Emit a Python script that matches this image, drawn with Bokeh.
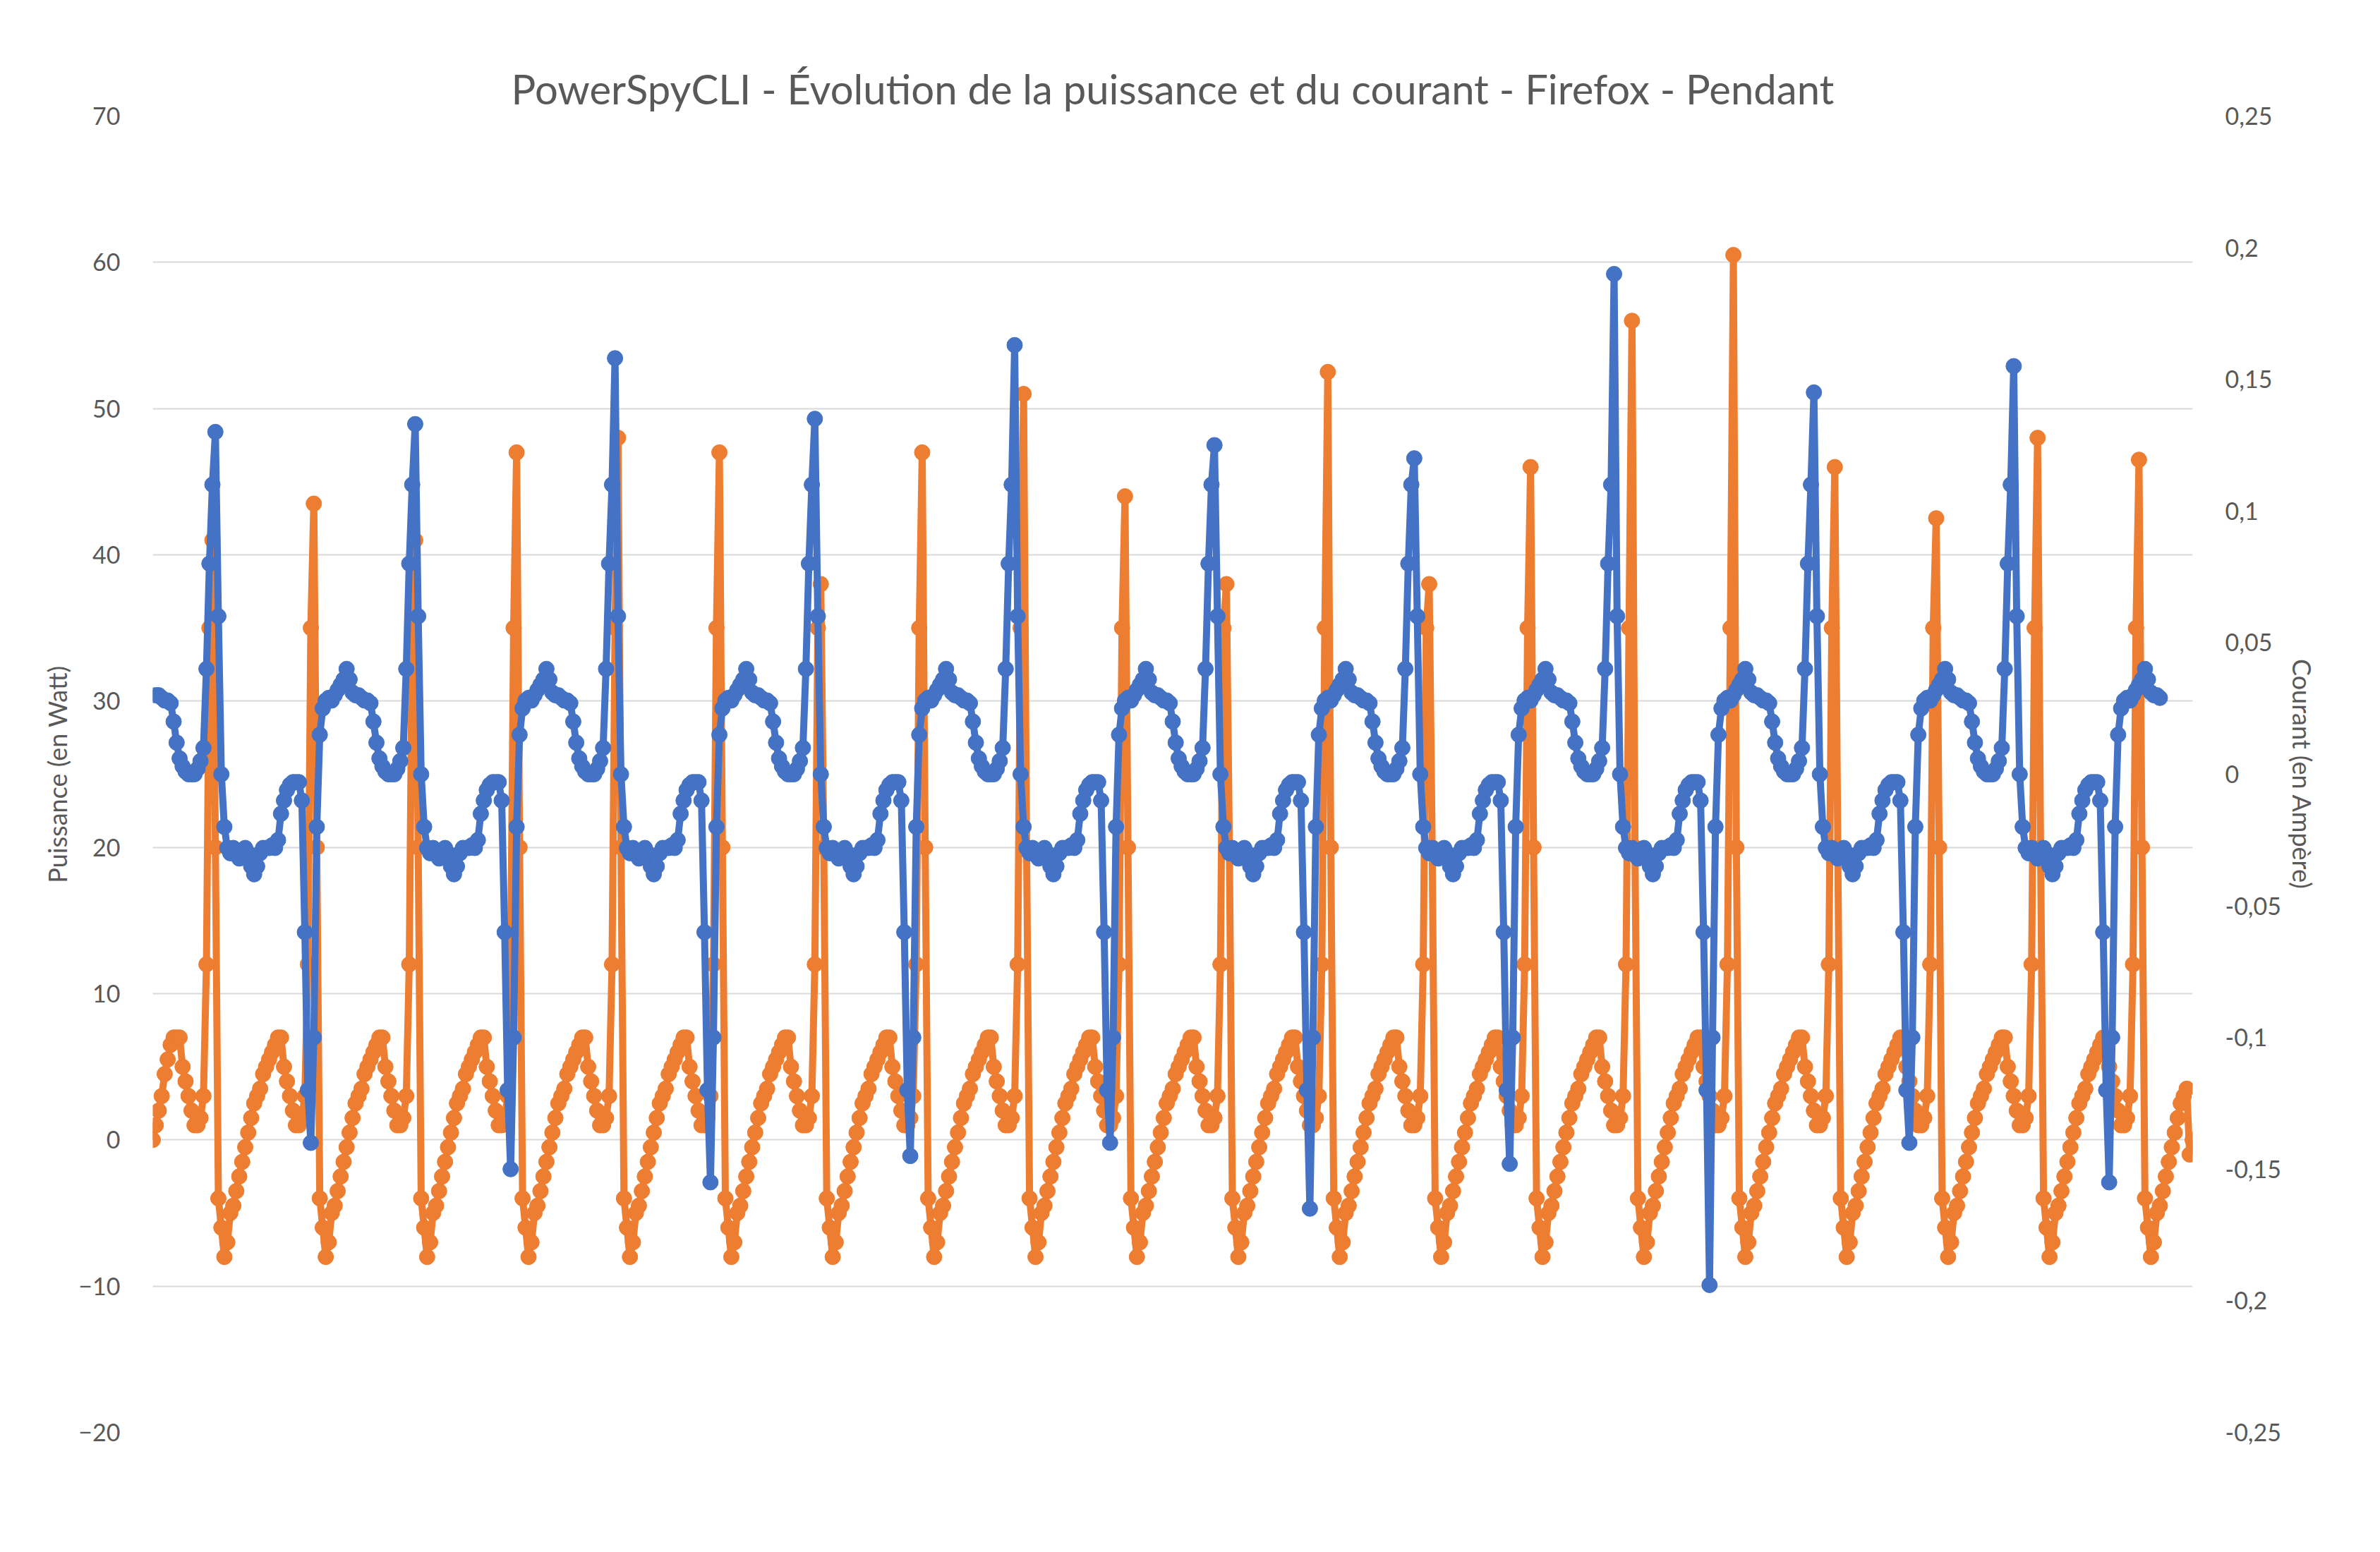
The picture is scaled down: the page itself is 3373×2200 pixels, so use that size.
from bokeh.plotting import figure
from bokeh.models import Range1d, LinearAxis, FixedTicker, Legend, LegendItem
from bokeh.embed import file_html
from bokeh.resources import INLINE

# one power cycle (sample every ~2 px), first value replaced by the cycle peak
power_cycle = [None, 20, -4, -6, -8, -7, -5, -4.5, -3.5, -2.5, -1.5, -0.5, 0.5, 1.5, 2.5, 3,
               3.5, 4.5, 5, 5.5, 6, 6.5, 7, 7, 5, 4, 3, 2, 1, 1, 1.5, 3, 12, 35]
power_peaks = [41, 43.5, 41, 47, 48, 47, 38, 47, 51, 44, 38, 52.5, 38, 46, 56, 60.5, 46, 42.5, 48, 46.5]

# one current cycle, first value = peak, index 32 = minimum
current_cycle = [None, 0.06, 0.0, -0.02, -0.028, -0.03, -0.028, -0.03, -0.032, -0.03, -0.028, -0.03,
                 -0.035, -0.038, -0.035, -0.03, -0.028, -0.028, -0.028, -0.027, -0.028, -0.025,
                 -0.015, -0.01, -0.006, -0.004, -0.003, -0.003, -0.003, -0.01, -0.06, -0.12, None,
                 -0.1, -0.02, 0.015, 0.025, 0.028, 0.029, 0.028, 0.03, 0.032, 0.034, 0.036, 0.04,
                 0.036, 0.031, 0.03, 0.03, 0.029, 0.028, 0.028, 0.027, 0.02, 0.012, 0.006, 0.003,
                 0.001, 0.0, 0.0, 0.0, 0.002, 0.005, 0.01, 0.04, 0.08, 0.11]
current_peaks = [0.13, 0.133, 0.158, 0.135, 0.163, 0.125, 0.12, 0.19, 0.145, 0.155]
current_mins = [-0.14, -0.15, -0.155, -0.145, -0.14, -0.165, -0.148, -0.194, -0.14, -0.155]
power_start = [0, 1, 2, 3, 4.5, 5.5, 6.5, 7, 7]

def pcyc(k):
    c = list(power_cycle); c[0] = power_peaks[k]; return c
def ccyc(k):
    c = list(current_cycle); c[0] = current_peaks[k]; c[32] = current_mins[k]; return c

power = list(power_start) + list(power_cycle[23:])
for k in range(19):
    power += pcyc(k)
power += pcyc(19)[:17] + [-1, 0]

current = list(current_cycle[47:])
for k in range(9):
    current += ccyc(k)
current += ccyc(9)[:50]

px = list(range(len(power)))
cx = [i + 1 for i in range(len(current))]
N = max(len(power), len(current) + 1)

OR = "#ED7D31"; BL = "#4472C4"; FONT = "Lato"
p = figure(width=3357, height=2184, output_backend="svg", toolbar_location=None,
           x_range=Range1d(0, N - 1), y_range=Range1d(-20, 70),
           min_border_left=216, min_border_right=250, min_border_top=164, min_border_bottom=154,
           outline_line_color=None, border_fill_color="white")
p.title.text = "PowerSpyCLI - Évolution de la puissance et du courant - Firefox - Pendant"
p.title.align = "center"; p.title.text_font = FONT; p.title.text_font_size = "58px"
p.title.text_font_style = "normal"; p.title.text_color = "#595959"
p.extra_y_ranges = {"amp": Range1d(-0.25, 0.25)}

p.xaxis.visible = False
p.xgrid.visible = False
p.ygrid.ticker = FixedTicker(ticks=list(range(-20, 71, 10)))
p.ygrid.grid_line_color = "#D9D9D9"; p.ygrid.grid_line_width = 2
ya = p.yaxis[0]
ya.ticker = FixedTicker(ticks=list(range(-20, 71, 10)))
ya.axis_label = "Puissance (en Watt)"
ra = LinearAxis(y_range_name="amp", axis_label="Courant (en Ampère)",
                ticker=FixedTicker(ticks=[-0.25, -0.2, -0.15, -0.1, -0.05, 0, 0.05, 0.1, 0.15, 0.2, 0.25]))
ra.major_label_overrides = {-0.25: "-0,25", -0.2: "-0,2", -0.15: "-0,15", -0.1: "-0,1", -0.05: "-0,05",
                            0: "0", 0.05: "0,05", 0.1: "0,1", 0.15: "0,15", 0.2: "0,2", 0.25: "0,25"}
p.add_layout(ra, "right")
for a in (ya, ra):
    a.axis_line_color = None; a.major_tick_line_color = None; a.minor_tick_line_color = None
    a.major_label_text_font = FONT; a.major_label_text_font_size = "34px"
    a.major_label_text_color = "#595959"; a.axis_label_text_font = FONT
    a.axis_label_text_font_size = "36px"; a.axis_label_text_font_style = "normal"
    a.axis_label_text_color = "#595959"; a.major_label_standoff = 40

l1 = p.line(px, power, color=OR, line_width=10)
c1 = p.scatter(px, power, color=OR, size=22)
l2 = p.line(cx, current, color=BL, line_width=10, y_range_name="amp")
c2 = p.scatter(cx, current, color=BL, size=22, y_range_name="amp")

leg = Legend(items=[LegendItem(label="Puissance(W)", renderers=[l1, c1]),
                    LegendItem(label="Current(A)", renderers=[l2, c2])],
             orientation="horizontal", location=(1130, -125), border_line_color=None,
             background_fill_alpha=0,
             label_text_font=FONT, label_text_font_size="34px", label_text_color="#595959",
             glyph_width=90, spacing=30)
p.add_layout(leg, "center")

open("out.html", "w").write(file_html(p, INLINE))
